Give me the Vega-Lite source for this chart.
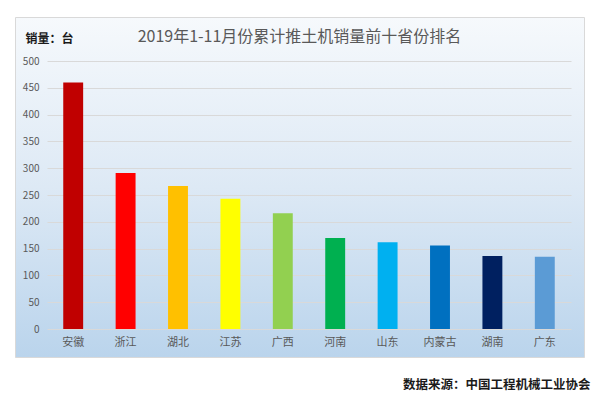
{
  "$schema": "https://vega.github.io/schema/vega-lite/v6.json",
  "autosize": {"type": "none"},
  "padding": {"left": 15, "top": 17, "right": 16, "bottom": 54},
  "width": 569,
  "height": 340,
  "background": "white",
  "title": {
    "text": "2019年1-11月份累计推土机销量前十省份排名",
    "font": "Noto Sans CJK SC",
    "fontSize": 16,
    "fontWeight": "normal",
    "color": "#595959",
    "offset": -28,
    "anchor": "middle"
  },
  "data": {
    "values": [
      {"省份": "安徽", "销量": 460},
      {"省份": "浙江", "销量": 291},
      {"省份": "湖北", "销量": 267},
      {"省份": "江苏", "销量": 243},
      {"省份": "广西", "销量": 216},
      {"省份": "河南", "销量": 170},
      {"省份": "山东", "销量": 162},
      {"省份": "内蒙古", "销量": 156},
      {"省份": "湖南", "销量": 136},
      {"省份": "广东", "销量": 135}
    ]
  },
  "mark": {"type": "bar"},
  "encoding": {
    "x": {
      "field": "省份",
      "type": "nominal",
      "sort": null,
      "scale": {"range": [32, 556], "paddingInner": 0.62, "paddingOuter": 0.31},
      "axis": {
        "title": "数据来源：中国工程机械工业协会",
        "titleFont": "Noto Sans CJK SC",
        "titleFontSize": 12.5,
        "titleFontWeight": "bold",
        "titleColor": "#1a1a1a",
        "titleX": 575,
        "titleY": 59,
        "titleAlign": "right",
        "titleBaseline": "alphabetic",
        "titleAnchor": null,
        "offset": -28,
        "domain": false,
        "ticks": false,
        "labelAngle": 0,
        "labelPadding": 7,
        "labelFont": "Noto Sans CJK SC",
        "labelFontSize": 11,
        "labelColor": "#595959"
      }
    },
    "y": {
      "field": "销量",
      "type": "quantitative",
      "scale": {"domain": [0, 500], "range": [312, 44], "nice": false},
      "axis": {
        "values": [0, 50, 100, 150, 200, 250, 300, 350, 400, 450, 500],
        "title": "销量：台",
        "titleFont": "Noto Sans CJK SC",
        "titleFontSize": 12,
        "titleFontWeight": "bold",
        "titleColor": "#1a1a1a",
        "titleAngle": 0,
        "titleX": -19,
        "titleY": 25,
        "titleAlign": "left",
        "titleBaseline": "alphabetic",
        "titleAnchor": null,
        "offset": -29,
        "domain": false,
        "ticks": false,
        "labelPadding": 5,
        "labelFont": "Noto Sans CJK SC",
        "labelFontSize": 10,
        "labelColor": "#595959",
        "gridColor": "#d9d9d9",
        "gridWidth": 1
      }
    },
    "color": {
      "field": "省份",
      "type": "nominal",
      "legend": null,
      "scale": {
        "domain": ["安徽", "浙江", "湖北", "江苏", "广西", "河南", "山东", "内蒙古", "湖南", "广东"],
        "range": ["#C00000", "#FF0000", "#FFC000", "#FFFF00", "#92D050", "#00B050", "#00B0F0", "#0070C0", "#002060", "#5B9BD5"]
      }
    }
  },
  "config": {
    "view": {
      "stroke": "#d9d9d9",
      "fill": {
        "gradient": "linear",
        "x1": 0, "y1": 0, "x2": 0, "y2": 1,
        "stops": [
          {"offset": 0, "color": "#f6f9fc"},
          {"offset": 0.5, "color": "#dde9f5"},
          {"offset": 1, "color": "#bad4ec"}
        ]
      }
    }
  }
}
